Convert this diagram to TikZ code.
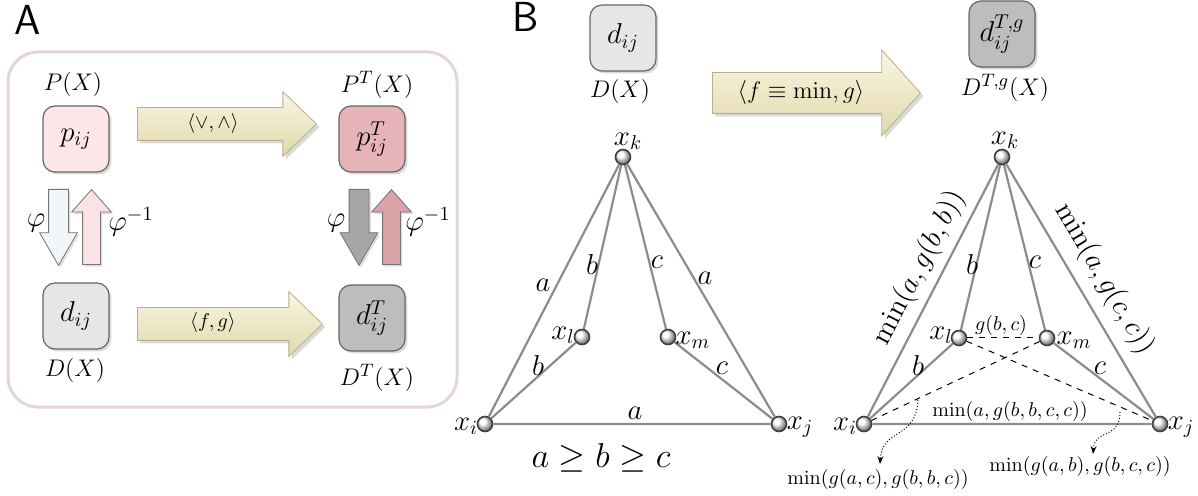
\documentclass[tikz,border=0pt]{standalone}
\usepackage{amsmath,amssymb}
\usepackage{tikz}
\usetikzlibrary{positioning}
\usetikzlibrary{shapes.arrows,shadows,arrows.meta}

\definecolor{pcol}{HTML}{FCE6E8}
\definecolor{pTcol}{HTML}{E6B3B8}
\definecolor{dcol}{HTML}{E6E6E6}
\definecolor{dTcol}{HTML}{BDBDBD}
\definecolor{creamtop}{HTML}{FAF6E2}
\definecolor{creambot}{HTML}{E2D8AC}
\definecolor{creamline}{HTML}{B9AF8E}
\definecolor{panelline}{HTML}{E6D5D7}
\definecolor{edgegray}{HTML}{8C8C8C}
\definecolor{phidown}{HTML}{F1F6FA}
\definecolor{phiup}{HTML}{FBE2E4}
\definecolor{phiTdown}{HTML}{A6A6A6}
\definecolor{phiTup}{HTML}{D9A3A8}

\tikzset{
  cell/.style={draw=black!60, line width=0.6pt, rounded corners=6pt, minimum size=33pt, inner sep=0pt,
    font=\fontsize{14}{16}\selectfont, drop shadow={opacity=0.3, shadow xshift=1.2pt, shadow yshift=-1.2pt}},
  lab/.style={font=\fontsize{13}{15}\selectfont, inner sep=1pt},
  barrow/.style={single arrow, draw=creamline, line width=0.4pt, top color=creamtop, bottom color=creambot,
    text height=0pt, text depth=0pt, inner xsep=0pt, minimum width=0pt, anchor=tail,
    drop shadow={opacity=0.3, shadow xshift=1.5pt, shadow yshift=-1.5pt}},
  varrow/.style={single arrow, draw=black!55, line width=0.4pt, text height=0pt, text depth=0pt,
    inner xsep=0pt, minimum width=0pt, minimum height=38pt, anchor=tail,
    drop shadow={opacity=0.25, shadow xshift=1pt, shadow yshift=-1pt}},
  vert/.style={circle, draw=black!75, line width=0.8pt, minimum size=7.5pt, inner sep=0pt, ball color=white},
  link/.style={draw=edgegray, line width=1.1pt},
  dlink/.style={dashed, line width=0.5pt},
  pointer/.style={densely dotted, line width=0.5pt, -{Stealth[length=4pt,width=3pt]}},
  vlab/.style={font=\fontsize{14}{16}\selectfont, inner sep=1pt},
  elab/.style={font=\fontsize{14}{16}\selectfont, inner sep=1pt},
  small/.style={font=\fontsize{10}{12}\selectfont, inner sep=1pt},
  slant/.style={font=\fontsize{13.5}{16}\selectfont, inner sep=1pt},
  panelcap/.style={font=\sffamily\fontsize{21}{24}\selectfont, inner sep=0pt}
}

\begin{document}
\begin{tikzpicture}[x=0.5pt,y=-0.5pt]
	\useasboundingbox (0,0) rectangle (1198,496);
	\node[panelcap] (capA) at (28,20) {A};
	\node[panelcap] (capB) at (526,17) {B};
	\draw[panelline, line width=1.5pt, rounded corners=15pt] (8,52) rectangle (457,407);

	\node[cell, fill=pcol] (p) at (76,139) {$p_{ij}$};
	\node[cell, fill=pTcol] (pT) at (372,139) {$p^T_{ij}$};
	\node[cell, fill=dcol] (d) at (76,316) {$d_{ij}$};
	\node[cell, fill=dTcol] (dT) at (372,318) {$d^T_{ij}$};
	\node[lab] (PX) at (73,85) {$P(X)$};
	\node[lab] (PTX) at (377,85) {$P^T(X)$};
	\node[lab] (DX) at (75,370) {$D(X)$};
	\node[lab] (DTX) at (377,378) {$D^T(X)$};

	\node[barrow, minimum height=89.5pt, inner ysep=8pt, single arrow head extend=8pt, single arrow tip angle=88] (veewedge) at (137,124) {};
	\node[small] (veewedgelab) at (213,124) {$\langle\vee,\wedge\rangle$};
	\node[barrow, minimum height=92.5pt, inner ysep=8pt, single arrow head extend=8pt, single arrow tip angle=88] (fg) at (137,324) {};
	\node[small] (fglab) at (213,323) {$\langle f,g\rangle$};

	\node[varrow, fill=phidown, rotate=-90, inner ysep=4.75pt, single arrow head extend=4.5pt, single arrow tip angle=60] (phiA) at (58.5,189) {};
	\node[varrow, fill=phiup, rotate=90, minimum height=37.5pt, inner ysep=4.25pt, single arrow head extend=5.5pt, single arrow tip angle=83] (phiinvA) at (91.5,265) {};
	\node[varrow, fill=phiTdown, rotate=-90, inner ysep=4.75pt, single arrow head extend=4.5pt, single arrow tip angle=60] (phiT) at (359,189) {};
	\node[varrow, fill=phiTup, rotate=90, minimum height=37.5pt, inner ysep=4.25pt, single arrow head extend=5.5pt, single arrow tip angle=83] (phiinvT) at (391.5,265) {};
	\node[vlab] (philabA) at (36,223) {$\varphi$};
	\node[vlab] (phiinvlabA) at (131,222) {$\varphi^{-1}$};
	\node[vlab] (philabT) at (336,223) {$\varphi$};
	\node[vlab] (phiinvlabT) at (428,222) {$\varphi^{-1}$};

	\node[cell, fill=dcol] (dB) at (623,38) {$d_{ij}$};
	\node[lab] (DXB) at (620,92) {$D(X)$};
	\node[barrow, minimum height=104pt, inner ysep=10pt, single arrow head extend=11.25pt, single arrow tip angle=96] (fmin) at (712,93) {};
	\node[font=\fontsize{13}{15}\selectfont] (fminlab) at (801,93) {$\langle f\equiv\min,g\rangle$};
	\node[cell, fill=dTcol] (dTg) at (1002,34) {$d^{T,g}_{ij}$};
	\node[lab] (DTgX) at (1005,88) {$D^{T,g}(X)$};

	\node[vert] (kL) at (623,157) {};
	\node[vert] (lL) at (582,337) {};
	\node[vert] (mL) at (668,337) {};
	\node[vert] (iL) at (485,424) {};
	\node[vert] (jL) at (779,424) {};
	\draw[link] (iL) -- (kL) -- (jL) -- (iL);
	\draw[link] (iL) -- (lL) -- (kL) -- (mL) -- (jL);
	\node[vlab] (xkL) at (628,141) {$x_k$};
	\node[vlab] (xlL) at (563,335) {$x_l$};
	\node[vlab] (xmL) at (693,340) {$x_m$};
	\node[vlab] (xiL) at (466,426) {$x_i$};
	\node[vlab] (xjL) at (800,427) {$x_j$};
	\node[elab] (aL1) at (543,285) {$a$};
	\node[elab] (bL1) at (592,265) {$b$};
	\node[elab] (cL1) at (657,262) {$c$};
	\node[elab] (aL2) at (705,278) {$a$};
	\node[elab] (bL2) at (538,365) {$b$};
	\node[elab] (cL2) at (722,368) {$c$};
	\node[elab] (aL3) at (635,413) {$a$};
	\node[font=\fontsize{17}{20}\selectfont] (order) at (601,458) {$a\geq b\geq c$};

	\node[vert] (kR) at (1002,157) {};
	\node[vert] (lR) at (959,338) {};
	\node[vert] (mR) at (1047,338) {};
	\node[vert] (iR) at (864,424) {};
	\node[vert] (jR) at (1160,424) {};
	\draw[link] (iR) -- (kR) -- (jR) -- (iR);
	\draw[link] (iR) -- (lR) -- (kR) -- (mR) -- (jR);
	\draw[dlink] (lR) -- (mR);
	\draw[dlink] (lR) -- (jR);
	\draw[dlink] (mR) -- (iR);
	\node[vlab] (xkR) at (1005,140) {$x_k$};
	\node[vlab] (xlR) at (941,335) {$x_l$};
	\node[vlab] (xmR) at (1074,340) {$x_m$};
	\node[vlab] (xiR) at (845,426) {$x_i$};
	\node[vlab] (xjR) at (1181,427) {$x_j$};
	\node[elab] (bR1) at (972,265) {$b$};
	\node[elab] (cR1) at (1035,262) {$c$};
	\node[elab] (bR2) at (918,365) {$b$};
	\node[elab] (cR2) at (1100,368) {$c$};
	\node[slant, rotate=62.7] (ikR) at (919,268) {$\min(a,g(b,b))$};
	\node[slant, rotate=-59.5] (kjR) at (1104,279) {$\min(a,g(c,c))$};
	\node[small] (lmR) at (1001,326) {$g(b,c)$};
	\node[small] (ijR) at (1010,411) {$\min(a,g(b,b,c,c))$};
	\node[small] (imR) at (878,479) {$\min(g(a,c),g(b,b,c))$};
	\node[small] (ljR) at (1080,466) {$\min(g(a,b),g(b,c,c))$};
	\coordinate (s1) at (918,400);
	\coordinate (t1) at (880,464);
	\coordinate (s2) at (1120,412);
	\coordinate (t2) at (1093,454);
	\draw[pointer] (s1) .. controls (916,440) and (882,428) .. (t1);
	\draw[pointer] (s2) .. controls (1120,440) and (1095,428) .. (t2);
\end{tikzpicture}
\end{document}
